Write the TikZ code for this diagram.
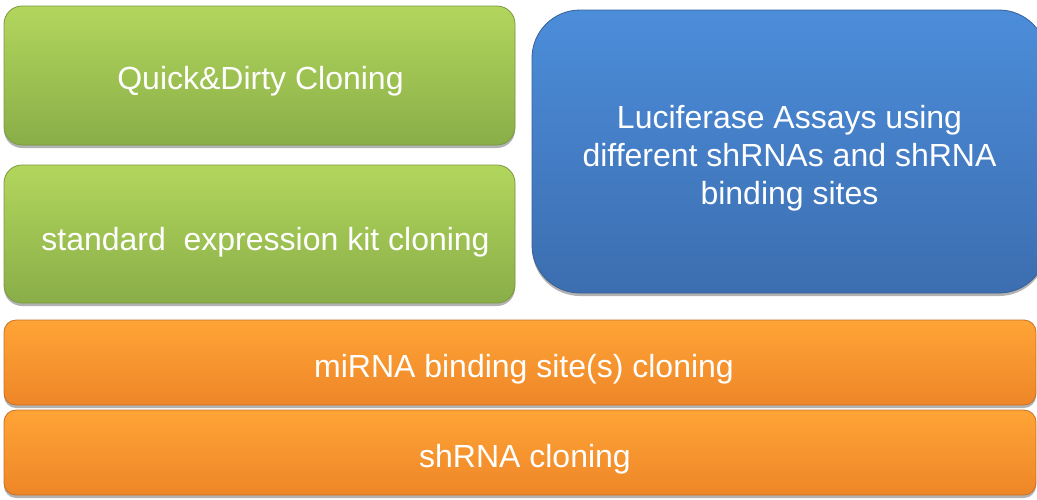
\documentclass[tikz,border=0pt]{standalone}
\usepackage{fontspec}
\setmainfont{Liberation Sans}
\usetikzlibrary{shadows}
\definecolor{gtop}{HTML}{B2D65C}
\definecolor{gbot}{HTML}{8AAE48}
\definecolor{gline}{HTML}{7A9A40}
\definecolor{btop}{HTML}{4C8DDA}
\definecolor{bbot}{HTML}{3C6EB0}
\definecolor{bline}{HTML}{365F96}
\definecolor{otop}{HTML}{FFA436}
\definecolor{obot}{HTML}{EE8628}
\definecolor{oline}{HTML}{C87028}
\tikzset{
  box/.style={rounded corners=18pt, inner sep=0pt,
    drop shadow={shadow xshift=0pt, shadow yshift=-3pt, opacity=0.3, fill=black}},
  boxtext/.style={text=white, font=\fontsize{32}{38}\selectfont, align=center, inner sep=0pt},
  greenbox/.style={box, top color=gtop, bottom color=gbot, draw=gline, line width=0.8pt},
  bluebox/.style={box, rounded corners=48pt, top color=btop, bottom color=bbot, draw=bline, line width=0.8pt},
  orangebox/.style={box, rounded corners=12pt, top color=otop, bottom color=obot, draw=oline, line width=0.8pt},
}
\begin{document}
\begin{tikzpicture}[x=1pt,y=-1pt]
\useasboundingbox (0,0) rectangle (1037,499);
\node[greenbox, minimum width=511pt, minimum height=139pt,
  label={[boxtext, xshift=1pt, yshift=-5.5pt]center:Quick\&Dirty Cloning}] (qd) at (259.5,75.5) {};
\node[greenbox, minimum width=511pt, minimum height=138pt,
  label={[boxtext, xshift=6pt, yshift=-8pt]center:standard\ \ expression kit cloning}] (std) at (259.5,234) {};
\node[bluebox, minimum width=515pt, minimum height=283pt,
  label={[boxtext, xshift=0pt, yshift=-6.5pt]center:Luciferase Assays using\\different shRNAs and shRNA\\binding sites}] (luc) at (789.5,151.5) {};
\node[orangebox, minimum width=1032pt, minimum height=85pt,
  label={[boxtext, xshift=4pt, yshift=-7pt]center:miRNA binding site(s) cloning}] (mir) at (520,362.5) {};
\node[orangebox, minimum width=1032pt, minimum height=85pt,
  label={[boxtext, xshift=5pt, yshift=-7pt]center:shRNA cloning}] (sh) at (520,452.5) {};
\end{tikzpicture}
\end{document}
